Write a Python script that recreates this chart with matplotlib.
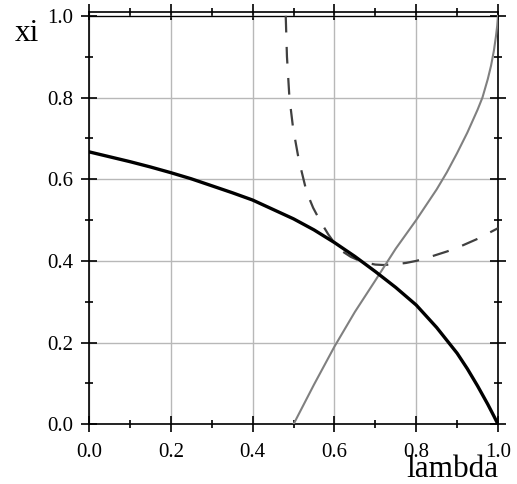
import numpy as np
import matplotlib
matplotlib.use('Agg')
import matplotlib.pyplot as plt
from matplotlib.ticker import MultipleLocator

# curve values
lam_black = [0.0, 0.05, 0.1, 0.15, 0.2, 0.25, 0.3, 0.35, 0.4, 0.45, 0.5,
             0.55, 0.6, 0.65, 0.7, 0.75, 0.8, 0.85, 0.9, 0.925, 0.95, 0.975,
             0.99, 1.0]
xi_black = [0.667, 0.655, 0.643, 0.630, 0.616, 0.601, 0.584, 0.567, 0.549,
            0.526, 0.503, 0.476, 0.445, 0.411, 0.374, 0.335, 0.292, 0.237,
            0.174, 0.136, 0.094, 0.049, 0.020, 0.0]

lam_gray = [0.5, 0.55, 0.6, 0.65, 0.7, 0.75, 0.8, 0.85, 0.875, 0.9, 0.925,
            0.95, 0.962, 0.975, 0.983, 0.99, 0.995, 0.998, 1.0]
xi_gray = [0.0, 0.097, 0.19, 0.275, 0.352, 0.43, 0.50, 0.575, 0.617, 0.664,
           0.714, 0.770, 0.800, 0.845, 0.878, 0.915, 0.950, 0.975, 1.0]

lam_dash = [0.481, 0.484, 0.490, 0.499, 0.513, 0.532, 0.548, 0.565, 0.585,
            0.605, 0.62, 0.64, 0.66, 0.68, 0.70, 0.72, 0.75, 0.775, 0.80,
            0.825, 0.85, 0.875, 0.90, 0.925, 0.95, 0.975, 1.00]
xi_dash = [1.0, 0.9, 0.8, 0.725, 0.647, 0.569, 0.530, 0.498, 0.465, 0.437,
           0.423, 0.410, 0.401, 0.395, 0.391, 0.390, 0.392, 0.395, 0.400,
           0.407, 0.415, 0.423, 0.432, 0.443, 0.454, 0.467, 0.480]

plt.rcParams['font.family'] = ['Liberation Serif', 'DejaVu Serif']

fig = plt.figure(figsize=(5.17, 4.84), dpi=100)
ax = fig.add_axes([89/517, 1 - 424.3/484, 409/517, (424.3 - 12.3)/484])

ax.set_xlim(0, 1.0)
ax.set_ylim(0, 1.0086)

ax.plot(lam_dash, xi_dash, color='#404040', lw=1.6, dashes=(7.5, 6.5), zorder=3)
ax.plot(lam_gray, xi_gray, color='#808080', lw=1.5, zorder=3)
ax.plot(lam_black, xi_black, color='black', lw=2.4, zorder=4)

ax.axhline(1.0, color='black', lw=0.9, zorder=2)

ax.xaxis.set_major_locator(MultipleLocator(0.2))
ax.xaxis.set_minor_locator(MultipleLocator(0.1))
ax.yaxis.set_major_locator(MultipleLocator(0.2))
ax.yaxis.set_minor_locator(MultipleLocator(0.1))
ax.xaxis.set_major_formatter(lambda v, p: '%.1f' % v)
ax.yaxis.set_major_formatter(lambda v, p: '%.1f' % v)

ax.grid(True, which='major', color='#b8b8b8', lw=1.0)
ax.set_axisbelow(True)

for s in ax.spines.values():
    s.set_linewidth(1.2)

ax.tick_params(which='major', direction='inout', length=11, width=1.2,
               top=True, right=True, labelsize=15)
ax.tick_params(axis='x', which='major', pad=8)
ax.tick_params(axis='y', which='major', pad=6)
ax.tick_params(which='minor', direction='inout', length=5.5, width=1.2,
               top=True, right=True)
for t in ax.xaxis.get_major_ticks() + ax.yaxis.get_major_ticks():
    t.tick1line.set_clip_on(False)
    t.tick2line.set_clip_on(False)

fig.text(15/517, 1 - 41/484, 'xi', fontsize=22.5, va='baseline', ha='left')
fig.text(498/517, 1 - 477/484, 'lambda', fontsize=22.5, va='baseline', ha='right')

fig.savefig('out.png', dpi=100)
